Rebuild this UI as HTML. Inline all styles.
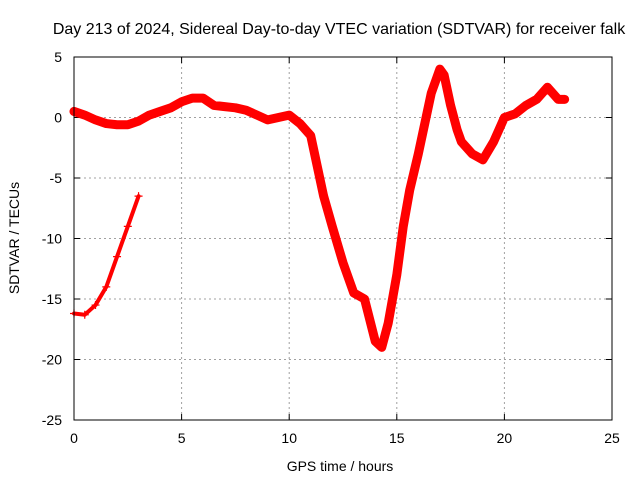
<!DOCTYPE html>
<html><head><meta charset="utf-8"><style>
body{margin:0;background:#fff}
svg{display:block;font-family:"Liberation Sans",sans-serif}
</style></head><body>
<svg width="640" height="480" id="c">
<text x="339" y="34" font-size="16" text-anchor="middle">Day 213 of 2024, Sidereal Day-to-day VTEC variation (SDTVAR) for receiver falk</text>
<text x="340" y="471" font-size="14" text-anchor="middle">GPS time / hours</text>
<text x="19" y="238" font-size="14" text-anchor="middle" transform="rotate(-90 19 238)">SDTVAR / TECUs</text>
<g id="grid"></g><g id="data"></g>
<rect x="74" y="57" width="538" height="363" fill="none" stroke="#000" stroke-width="1"/>
</svg>
<script>
const xTicks=[0,5,10,15,20,25];
const yTicks=[5,0,-5,-10,-15,-20,-25];
const mainT=[0,0.5,1,1.5,2,2.5,3,3.5,4,4.5,5,5.5,6,6.5,7,7.5,8,8.5,9,9.5,10,10.5,11,11.3,11.6,12,12.5,13,13.5,14,14.3,14.6,15,15.3,15.6,16,16.3,16.6,17,17.2,17.5,17.8,18,18.5,19,19.5,20,20.5,21,21.5,22,22.5,22.8];
const mainV=[0.5,0.2,-0.2,-0.5,-0.6,-0.6,-0.3,0.2,0.5,0.8,1.3,1.6,1.6,1.0,0.9,0.8,0.6,0.2,-0.2,0,0.2,-0.5,-1.5,-4,-6.5,-9,-12,-14.5,-15,-18.5,-19,-17,-13,-9,-6,-3,-0.5,2,4,3.5,1,-1,-2,-3,-3.5,-2,0,0.3,1,1.5,2.5,1.5,1.5];
const segT=[0,0.5,1,1.5,2,2.5,3];
const segV=[-16.2,-16.3,-15.5,-14,-11.5,-9,-6.5];
const NS="http://www.w3.org/2000/svg";
const X=t=>74+t*538/25, Y=v=>57+(5-v)*363/30;
const g=document.getElementById('grid'), d=document.getElementById('data');
function mk(tag,at,p){const e=document.createElementNS(NS,tag);for(const k in at)e.setAttribute(k,at[k]);p.appendChild(e);return e;}
xTicks.forEach(t=>{
 if(t>0&&t<25){const l=mk('line',{x1:X(t),x2:X(t),y1:57,y2:420,stroke:'#a0a0a0','stroke-dasharray':'2,3'},g);
 
 }
 mk('line',{x1:X(t),x2:X(t),y1:420,y2:414,stroke:'#000'},g);
 mk('line',{x1:X(t),x2:X(t),y1:57,y2:63,stroke:'#000'},g);
 const tx=mk('text',{x:X(t),y:443,'font-size':14,'text-anchor':'middle'},g);tx.textContent=t;
 
 
});
yTicks.forEach(v=>{
 if(v<5&&v>-25){const l=mk('line',{x1:74,x2:612,y1:Y(v),y2:Y(v),stroke:'#a0a0a0','stroke-dasharray':'2,3'},g);
 
 }
 mk('line',{x1:74,x2:80,y1:Y(v),y2:Y(v),stroke:'#000'},g);
 mk('line',{x1:606,x2:612,y1:Y(v),y2:Y(v),stroke:'#000'},g);
 const tx=mk('text',{x:62,y:Y(v)+5,'font-size':14,'text-anchor':'end'},g);tx.textContent=v;
 
 
});
function series(T,V,w,name){
 const pts=T.map((t,i)=>X(t)+','+Y(V[i])).join(' ');
 const pl=mk('polyline',{points:pts,fill:'none',stroke:'#f00','stroke-width':w,'stroke-linejoin':'round','stroke-linecap':'round'},d);
 
 
 T.forEach((t,i)=>{const x=X(t),y=Y(V[i]);
  const p=mk('path',{d:`M${x-4},${y}h8M${x},${y-4}v8`,stroke:'#f00','stroke-width':1.2},d);
  
  });
}
series(mainT,mainV,9,'sdtvar-main-series');
series(segT,segV,4,'sdtvar-early-series');
</script>
</body></html>
